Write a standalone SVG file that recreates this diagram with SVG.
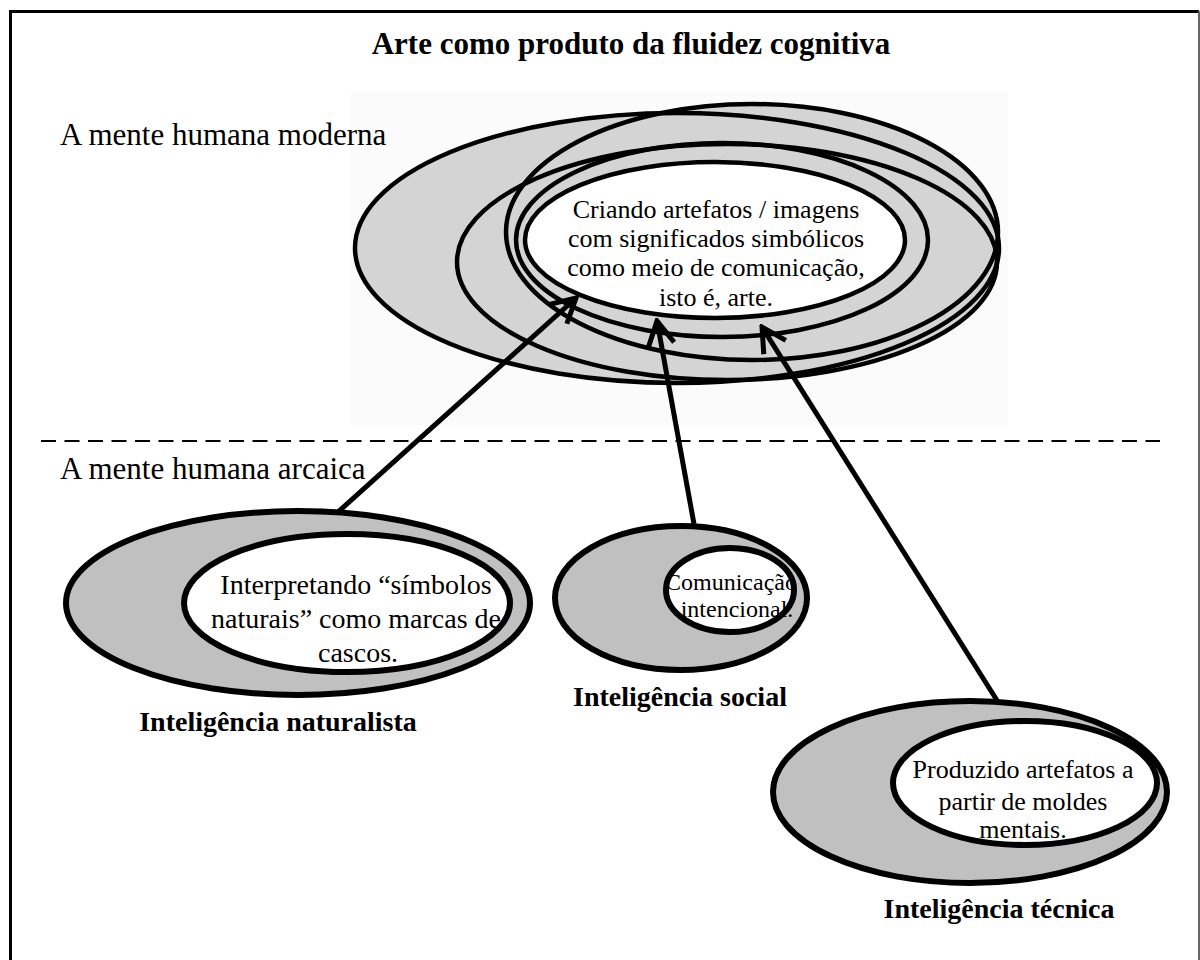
<svg xmlns="http://www.w3.org/2000/svg" width="1200" height="960" viewBox="0 0 1200 960">
<style>
.serif{font-family:"Liberation Serif","Times New Roman",serif;fill:#000}
.lbl{font-size:31px}
.bold{font-size:28px;font-weight:bold}
.t26{font-size:26px;text-anchor:middle}
.t28{font-size:28px;text-anchor:middle}
.t24{font-size:24px;text-anchor:middle}
.fillTop{fill:#d4d4d4;stroke:none}
.strokeTop{fill:none;stroke:#000;stroke-width:4.5}
.outer{fill:#c0c0c0;stroke:#000;stroke-width:6}
.inner{fill:#fff;stroke:#000;stroke-width:6}
.conn{fill:none;stroke:#000;stroke-width:5;stroke-linecap:butt}
</style>
<defs>
<marker id="ah" viewBox="0 0 32 32" refX="29" refY="16" markerWidth="32" markerHeight="32" markerUnits="userSpaceOnUse" orient="auto">
<path d="M5,3 L29,16 L5,29" fill="none" stroke="#000" stroke-width="5"/>
</marker>
</defs>
<rect x="0" y="0" width="1200" height="960" fill="#fff"/>
<path d="M10.5,960 V11.5 H1199" fill="none" stroke="#000" stroke-width="3"/>
<line x1="1199" y1="11" x2="1199" y2="960" stroke="#666" stroke-width="2"/>
<text class="serif bold" x="631" y="54" text-anchor="middle" style="font-size:31px">Arte como produto da fluidez cognitiva</text>
<rect x="350" y="92" width="658" height="333" fill="#fbfbfb"/>
<text class="serif lbl" x="60" y="145">A mente humana moderna</text>
<line x1="41" y1="441" x2="1160" y2="441" stroke="#000" stroke-width="2" stroke-dasharray="15,8.5"/>
<text class="serif lbl" x="60" y="479">A mente humana arcaica</text>
<g id="moderna">
<ellipse class="fillTop" cx="677" cy="248" rx="322" ry="135"/>
<ellipse class="fillTop" cx="727" cy="262" rx="270" ry="118"/>
<ellipse class="fillTop" cx="752" cy="232" rx="246" ry="128"/>
<ellipse class="fillTop" cx="722" cy="240" rx="206" ry="97"/>
<ellipse cx="715" cy="240" rx="190" ry="78" fill="#fff"/>
<ellipse class="strokeTop" cx="677" cy="248" rx="322" ry="135"/>
<ellipse class="strokeTop" cx="727" cy="262" rx="270" ry="118"/>
<ellipse class="strokeTop" cx="752" cy="232" rx="246" ry="128"/>
<ellipse class="strokeTop" cx="722" cy="240" rx="206" ry="97"/>
<ellipse class="strokeTop" cx="715" cy="240" rx="190" ry="78"/>
<text class="serif t26" x="716" y="218">Criando artefatos / imagens</text>
<text class="serif t26" x="716" y="247">com significados simbólicos</text>
<text class="serif t26" x="716" y="276">como meio de comunicação,</text>
<text class="serif t26" x="716" y="306">isto é, arte.</text>
</g>
<g id="naturalista">
<ellipse class="outer" cx="298" cy="603" rx="232" ry="92"/>
<ellipse class="inner" cx="347" cy="603" rx="163" ry="69"/>
<text class="serif t28" x="356" y="594">Interpretando “símbolos</text>
<text class="serif t28" x="356" y="628">naturais” como marcas de</text>
<text class="serif t28" x="358" y="662">cascos.</text>
<text class="serif bold" x="278" y="731" text-anchor="middle">Inteligência naturalista</text>
</g>
<g id="social">
<ellipse class="outer" cx="681" cy="598" rx="126" ry="72"/>
<ellipse class="inner" cx="730" cy="590" rx="64" ry="42"/>
<text class="serif t24" x="731" y="590">Comunicação</text>
<text class="serif t24" x="737" y="617">intencional.</text>
<text class="serif bold" x="680" y="706" text-anchor="middle">Inteligência social</text>
</g>
<g id="tecnica">
<ellipse class="outer" cx="970" cy="792" rx="197" ry="91"/>
<ellipse class="inner" cx="1025" cy="783" rx="132" ry="62"/>
<text class="serif t26" x="1023" y="778">Produzido artefatos a</text>
<text class="serif t26" x="1023" y="810">partir de moldes</text>
<text class="serif t26" x="1023" y="838">mentais.</text>
<text class="serif bold" x="999" y="918" text-anchor="middle">Inteligência técnica</text>
</g>
<g id="connectors">
<line class="conn" x1="338" y1="512" x2="576" y2="298" marker-end="url(#ah)"/>
<line class="conn" x1="694" y1="524" x2="657" y2="321" marker-end="url(#ah)"/>
<line class="conn" x1="998" y1="702" x2="762" y2="327" marker-end="url(#ah)"/>
</g>
</svg>
